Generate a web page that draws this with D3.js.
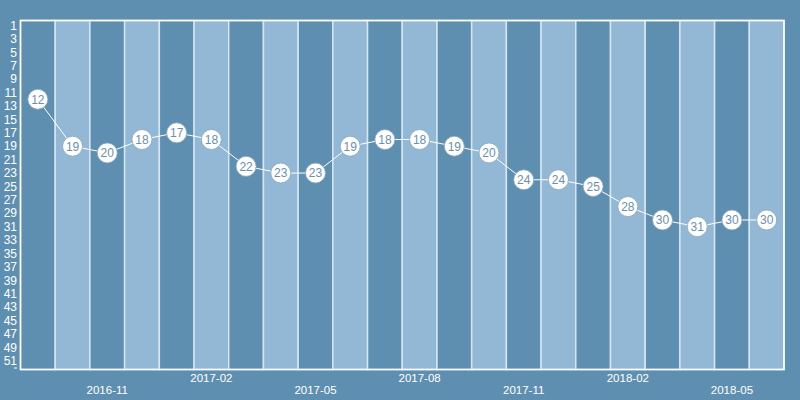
<!DOCTYPE html>
<html><head><meta charset="utf-8">
<script src="https://cdn.jsdelivr.net/npm/d3@7"></script>
<style>body{margin:0;background:#5f8fb0;} svg{display:block;}</style>
</head><body>
<script>
const months = ["2016-09","2016-10","2016-11","2016-12","2017-01","2017-02","2017-03","2017-04","2017-05","2017-06","2017-07","2017-08","2017-09","2017-10","2017-11","2017-12","2018-01","2018-02","2018-03","2018-04","2018-05","2018-06"];
const ranks = [12,19,20,18,17,18,22,23,23,19,18,18,19,20,24,24,25,28,30,31,30,30];
const xTickLabels = ["2016-11","2017-02","2017-05","2017-08","2017-11","2018-02","2018-05"];
const yTicks = d3.range(1, 52, 2);

const W = 800, H = 400;
const m = {left: 20.5, right: 16, top: 20.5, bottom: 30.5};
const FONT = "Liberation Sans, Arial, sans-serif";
const svg = d3.select("body").append("svg").attr("width", W).attr("height", H);
svg.append("rect").attr("width", W).attr("height", H).attr("fill", "#5f8fb0");

const x = d3.scaleBand().domain(months).range([m.left, W - m.right]);
const y = d3.scaleLinear().domain([0.25, 52.3]).range([m.top, H - m.bottom]);

// bands
svg.append("g").selectAll("rect").data(months).join("rect")
  .attr("x", d => x(d)).attr("y", m.top)
  .attr("width", x.bandwidth()).attr("height", (H - m.bottom) - m.top)
  .attr("fill", (d, i) => i % 2 === 0 ? "#5f8fb0" : "#92b8d5")
  .attr("stroke", "#d6e6f1").attr("stroke-width", 1.5);

// frame
svg.append("rect").attr("x", m.left).attr("y", m.top)
  .attr("width", W - m.right - m.left).attr("height", (H - m.bottom) - m.top)
  .attr("fill", "none").attr("stroke", "#ffffff").attr("stroke-width", 1.5);

// y axis labels
const yg = svg.append("g").attr("font-family", FONT).attr("font-size", 12).attr("fill", "#ffffff");
yg.selectAll("text").data(yTicks).join("text")
  .attr("x", 17).attr("y", d => y(d)).attr("dy", "0.35em")
  .attr("text-anchor", "end").text(d => d);
svg.append("line").attr("x1", 14).attr("x2", 17).attr("y1", H - m.bottom - 1.5).attr("y2", H - m.bottom - 1.5)
  .attr("stroke", "#ffffff").attr("stroke-width", 1);

// x labels
const xg = svg.append("g").attr("font-family", FONT).attr("font-size", 11.5).attr("fill", "#ffffff");
xg.selectAll("text").data(xTickLabels).join("text")
  .attr("x", d => x(d) + x.bandwidth() / 2)
  .attr("y", (d, i) => i % 2 === 0 ? 394 : 382)
  .attr("text-anchor", "middle").text(d => d);

// line
const pts = months.map((d, i) => [x(d) + x.bandwidth() / 2, y(ranks[i])]);
svg.append("path").attr("d", d3.line()(pts)).attr("fill", "none")
  .attr("stroke", "#ffffff").attr("stroke-width", 1);

// points
const pg = svg.append("g").selectAll("g").data(months).join("g")
  .attr("transform", (d, i) => `translate(${pts[i][0]},${pts[i][1]})`);
pg.append("circle").attr("r", 10).attr("fill", "#ffffff").attr("stroke", "#8aa6bc").attr("stroke-width", 0.8);
pg.append("text").attr("text-anchor", "middle").attr("dy", "0.36em")
  .attr("font-family", FONT).attr("font-size", 12).attr("fill", "#6a90ad")
  .text((d, i) => ranks[i]);
</script>
</body></html>
